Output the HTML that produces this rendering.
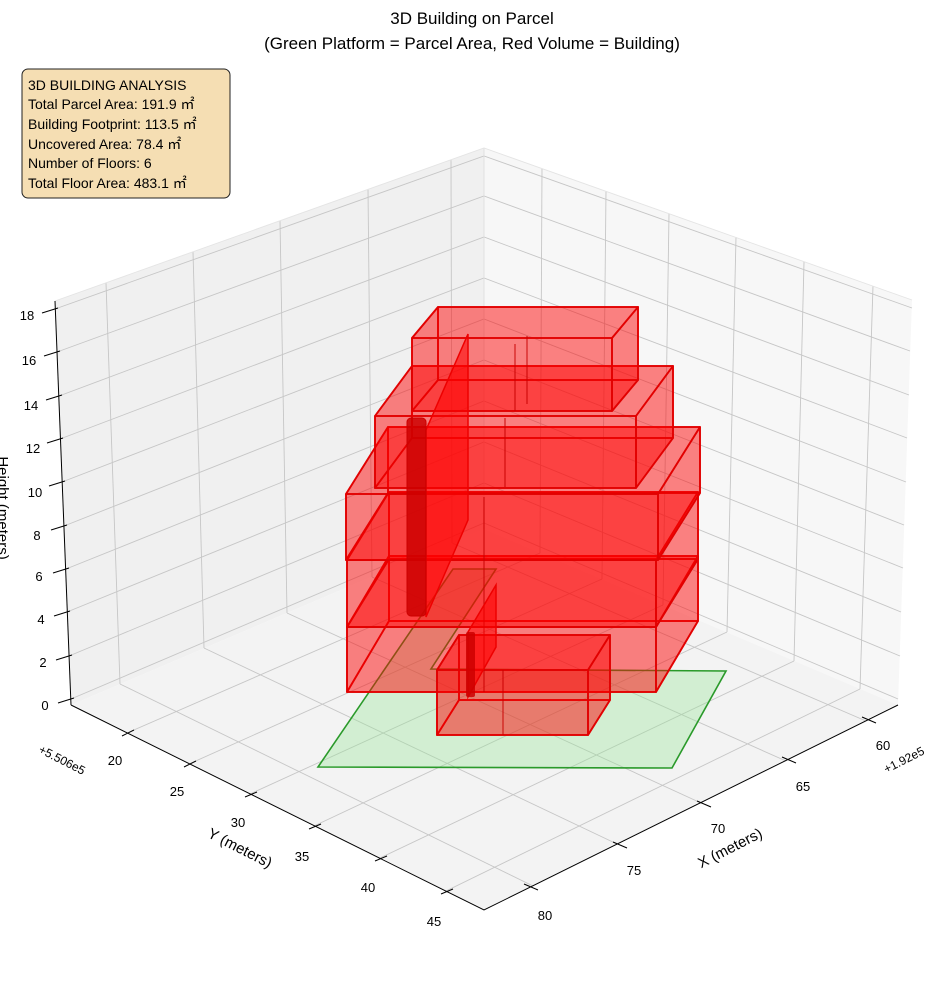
<!DOCTYPE html>
<html><head><meta charset="utf-8"><style>
html,body{margin:0;padding:0;background:#fff;}
svg{display:block;font-family:"Liberation Sans",sans-serif;}
</style></head><body>
<svg width="944" height="992" viewBox="0 0 944 992" xmlns="http://www.w3.org/2000/svg">
<polygon points="55,301 484,148 484,529 71,705" fill="#f0f0f0"/>
<polygon points="484,148 912,300 898,705 484,529" fill="#f7f7f7"/>
<polygon points="71,705 484,529 898,705 484,910" fill="#f3f3f3"/>
<g stroke="#c6c6c6" stroke-width="0.9" fill="none">
<line x1="452" y1="543" x2="451" y2="160"/><line x1="372" y1="577" x2="368" y2="189"/>
<line x1="287" y1="613" x2="280" y2="221"/><line x1="204" y1="648" x2="193" y2="252"/>
<line x1="120" y1="684" x2="106" y2="283"/>
<line x1="540" y1="553" x2="542" y2="169"/><line x1="602" y1="579" x2="606" y2="191"/>
<line x1="663" y1="605" x2="669" y2="214"/><line x1="727" y1="632" x2="736" y2="237"/>
<line x1="794" y1="661" x2="804" y2="262"/><line x1="860" y1="689" x2="873" y2="286"/>
<polyline points="71,699 484,523 898,699"/><polyline points="69,656 484,483 900,656"/>
<polyline points="67,612 484,442 901,612"/><polyline points="66,569 484,401 903,568"/>
<polyline points="64,526 484,360 904,525"/><polyline points="62,482 484,319 906,482"/>
<polyline points="60,439 484,278 907,438"/><polyline points="59,396 484,237 909,395"/>
<polyline points="57,352 484,196 910,351"/><polyline points="55,309 484,156 912,308"/>
<line x1="452" y1="543" x2="866" y2="721"/><line x1="372" y1="577" x2="786" y2="761"/>
<line x1="287" y1="613" x2="701" y2="803"/><line x1="204" y1="648" x2="617" y2="844"/>
<line x1="120" y1="684" x2="533" y2="886"/>
<line x1="540" y1="553" x2="127" y2="733"/><line x1="602" y1="579" x2="189" y2="764"/>
<line x1="663" y1="605" x2="250" y2="794"/><line x1="727" y1="632" x2="314" y2="826"/>
<line x1="794" y1="661" x2="380" y2="858"/><line x1="860" y1="689" x2="446" y2="891"/>
<line x1="484" y1="148" x2="484" y2="529" stroke="#dedede"/>
<polyline points="55,301 484,148 912,300" stroke="#e4e4e4"/>
</g>
<g stroke="#000" stroke-width="1" fill="none">
<polyline points="71,705 484,910 898,705"/>
<line x1="55" y1="301" x2="71" y2="705"/>
<line x1="58" y1="703" x2="74" y2="698"/><line x1="56" y1="660" x2="72" y2="655"/>
<line x1="54" y1="616" x2="70" y2="611"/><line x1="53" y1="573" x2="69" y2="568"/>
<line x1="51" y1="530" x2="67" y2="525"/><line x1="49" y1="486" x2="65" y2="481"/>
<line x1="47" y1="443" x2="63" y2="438"/><line x1="46" y1="400" x2="62" y2="395"/>
<line x1="44" y1="356" x2="60" y2="351"/><line x1="42" y1="313" x2="58" y2="308"/>
<line x1="122" y1="736" x2="134" y2="730"/><line x1="184" y1="767" x2="196" y2="761"/>
<line x1="245" y1="797" x2="257" y2="792"/><line x1="309" y1="829" x2="321" y2="824"/>
<line x1="375" y1="861" x2="387" y2="856"/><line x1="441" y1="894" x2="453" y2="889"/>
<line x1="862" y1="717" x2="876" y2="723"/><line x1="782" y1="757" x2="796" y2="763"/>
<line x1="697" y1="801" x2="711" y2="807"/><line x1="613" y1="842" x2="627" y2="848"/>
<line x1="524" y1="884" x2="538" y2="890"/>
</g>
<polygon points="318,767 453,569 496,569 431,669 726,671 672,768" fill="rgba(150,230,150,0.35)" stroke="#2a9a2a" stroke-width="1.6"/>
<g fill="rgba(255,0,0,0.28)" stroke="rgba(225,0,0,0.9)" stroke-width="1.8" stroke-linejoin="round">
<polygon points="389,556 698,556 698,621 389,621"/><polygon points="347,692 656,692 698,621 389,621"/>
<polygon points="347,627 389,556 389,621 347,692"/><polygon points="656,627 698,556 698,621 656,692"/>
<polygon points="347,627 656,627 698,556 389,556"/><polygon points="347,627 656,627 656,692 347,692"/>
<polygon points="389,492 698,492 698,559 389,559"/><polygon points="347,627 656,627 698,559 389,559"/>
<polygon points="347,560 389,492 389,559 347,627"/><polygon points="656,560 698,492 698,559 656,627"/>
<polygon points="347,560 656,560 698,492 389,492"/><polygon points="347,560 656,560 656,627 347,627"/>
<polygon points="388,427 700,427 700,493 388,493"/><polygon points="346,560 658,560 700,493 388,493"/>
<polygon points="346,494 388,427 388,493 346,560"/><polygon points="658,494 700,427 700,493 658,560"/>
<polygon points="346,494 658,494 700,427 388,427"/><polygon points="346,494 658,494 658,560 346,560"/>
<polygon points="412,366 673,366 673,438 412,438"/><polygon points="375,488 636,488 673,438 412,438"/>
<polygon points="375,416 412,366 412,438 375,488"/><polygon points="636,416 673,366 673,438 636,488"/>
<polygon points="375,416 636,416 673,366 412,366"/><polygon points="375,416 636,416 636,488 375,488"/>
<polygon points="438,307 638,307 638,380 438,380"/><polygon points="412,411 612,411 638,380 438,380"/>
<polygon points="412,338 438,307 438,380 412,411"/><polygon points="612,338 638,307 638,380 612,411"/>
<polygon points="412,338 612,338 638,307 438,307"/><polygon points="412,338 612,338 612,411 412,411"/>
<polygon points="459,635 610,635 610,700 459,700"/><polygon points="437,735 588,735 610,700 459,700"/>
<polygon points="437,670 459,635 459,700 437,735"/><polygon points="588,670 610,635 610,700 588,735"/>
<polygon points="437,670 588,670 610,635 459,635"/><polygon points="437,670 588,670 588,735 437,735"/>
</g>
<g stroke="rgba(200,0,0,0.8)" stroke-width="1.2" fill="none">
<line x1="484" y1="497" x2="484" y2="692"/><line x1="505" y1="418" x2="505" y2="487"/>
<line x1="515" y1="344" x2="515" y2="411"/><line x1="527" y1="336" x2="527" y2="404"/>
<line x1="503" y1="670" x2="503" y2="735"/>
</g>
<polygon points="426,430 468,334 468,520 426,617" fill="rgba(255,0,0,0.55)" stroke="#e00" stroke-width="1.5"/>
<rect x="407" y="418" width="19" height="198" rx="4" fill="rgba(205,0,0,0.85)" stroke="#c00" stroke-width="1"/>
<polygon points="468,632 496,585 496,647 468,697" fill="rgba(255,0,0,0.55)" stroke="#e00" stroke-width="1.5"/>
<rect x="466" y="632" width="9" height="65" rx="2" fill="rgba(205,0,0,0.85)"/>
<g font-size="13" fill="#000" text-anchor="middle">
<text x="45" y="710">0</text><text x="43" y="667">2</text><text x="41" y="624">4</text>
<text x="39" y="581">6</text><text x="37" y="540">8</text><text x="35" y="497">10</text>
<text x="33" y="453">12</text><text x="31" y="410">14</text><text x="29" y="365">16</text><text x="27" y="320">18</text>
<text x="115" y="765">20</text><text x="177" y="796">25</text><text x="238" y="827">30</text>
<text x="302" y="861">35</text><text x="368" y="892">40</text><text x="434" y="926">45</text>
<text x="883" y="750">60</text><text x="803" y="791">65</text><text x="718" y="833">70</text>
<text x="634" y="875">75</text><text x="545" y="920">80</text>
</g>
<text x="62" y="764" font-size="12" text-anchor="middle" transform="rotate(27 62 760)">+5.506e5</text>
<text x="904" y="764" font-size="12" text-anchor="middle" transform="rotate(-27 904 760)">+1.92e5</text>
<text x="240" y="853" font-size="15" text-anchor="middle" transform="rotate(27 240 848)">Y (meters)</text>
<text x="730" y="853" font-size="15" text-anchor="middle" transform="rotate(-27 730 848)">X (meters)</text>
<text x="0" y="0" font-size="15" text-anchor="middle" transform="translate(-2,508) rotate(90)">Height (meters)</text>
<text x="472" y="24" font-size="17" text-anchor="middle">3D Building on Parcel</text>
<text x="472" y="49" font-size="17" text-anchor="middle">(Green Platform = Parcel Area, Red Volume = Building)</text>
<rect x="22" y="69" width="208" height="129" rx="6" fill="#f5deb3" stroke="#222" stroke-width="1"/>
<g font-size="14" fill="#000">
<text x="28" y="90">3D BUILDING ANALYSIS</text>
<text x="28" y="109">Total Parcel Area: 191.9 ㎡</text>
<text x="28" y="129">Building Footprint: 113.5 ㎡</text>
<text x="28" y="149">Uncovered Area: 78.4 ㎡</text>
<text x="28" y="168">Number of Floors: 6</text>
<text x="28" y="188">Total Floor Area: 483.1 ㎡</text>
</g>
</svg>
</body></html>
